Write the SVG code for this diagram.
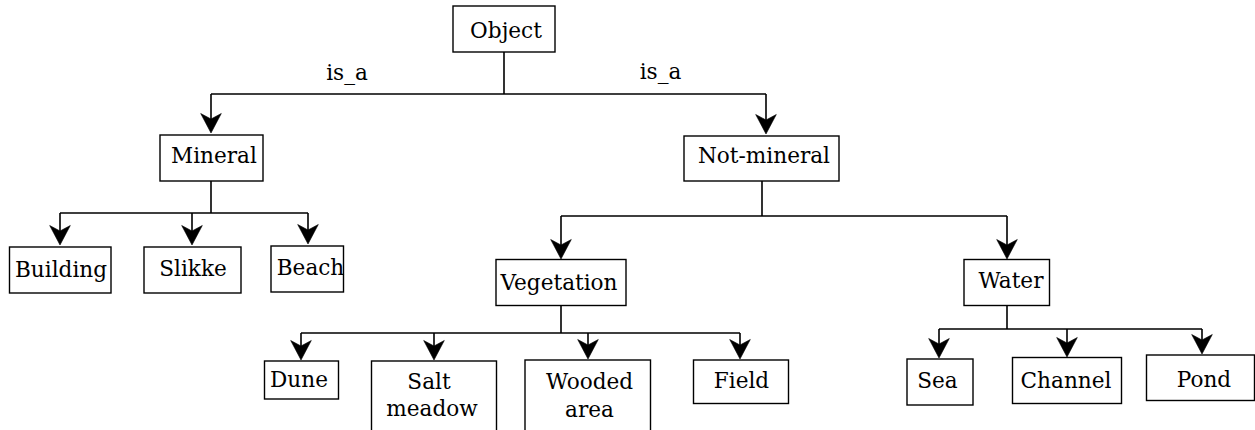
<svg xmlns="http://www.w3.org/2000/svg" xmlns:xlink="http://www.w3.org/1999/xlink" width="1255" height="430" viewBox="0 0 1255 430">
<style>
.box{fill:#fff;stroke:#000;stroke-width:1.4}
.lbl{font-family:"DejaVu Serif",serif;font-size:21.6px;fill:#000;text-anchor:middle}
.edge{fill:none;stroke:#000;stroke-width:1.6}
.head{fill:#000;stroke:#000;stroke-width:0.6;stroke-linejoin:miter}
</style>
<defs>
<path id="ah" class="head" d="M0,0 L-10.3,-19.5 L0,-14 L10.3,-19.5 Z"/>
</defs>
<g id="connectors">
<path class="edge" d="M504,52 V94 M211,94 H766 M211,94 V120 M766,94 V121"/>
<path class="edge" d="M211,181 V213 M60,213 H308 M60,213 V232 M192,213 V232 M308,213 V231"/>
<path class="edge" d="M762,181 V216 M561,216 H1007 M561,216 V246 M1007,216 V246"/>
<path class="edge" d="M561,305 V333 M301,333 H740 M301,333 V347 M434,333 V347 M588,333 V346 M740,333 V346"/>
<path class="edge" d="M1007,305 V329 M939,329 H1202 M939,329 V345 M1067,329 V344 M1202,329 V341"/>
<use xlink:href="#ah" x="211" y="133"/>
<use xlink:href="#ah" x="766" y="134"/>
<use xlink:href="#ah" x="60" y="245"/>
<use xlink:href="#ah" x="192" y="245"/>
<use xlink:href="#ah" x="308" y="244"/>
<use xlink:href="#ah" x="561" y="259"/>
<use xlink:href="#ah" x="1007" y="259"/>
<use xlink:href="#ah" x="301" y="360"/>
<use xlink:href="#ah" x="434" y="360"/>
<use xlink:href="#ah" x="588" y="359"/>
<use xlink:href="#ah" x="740" y="359"/>
<use xlink:href="#ah" x="939" y="358"/>
<use xlink:href="#ah" x="1067" y="357"/>
<use xlink:href="#ah" x="1202" y="354"/>
<text class="lbl" x="347" y="80">is_a</text>
<text class="lbl" x="660.5" y="79">is_a</text>
</g>
<g id="object"><rect class="box" x="453" y="6" width="102" height="46"/><text class="lbl" x="506" y="38">Object</text></g>
<g id="mineral"><rect class="box" x="160" y="135" width="103" height="46"/><text class="lbl" x="214" y="163">Mineral</text></g>
<g id="not-mineral"><rect class="box" x="684" y="136" width="155" height="45"/><text class="lbl" x="764" y="163">Not-mineral</text></g>
<g id="building"><rect class="box" x="9.5" y="247" width="101.5" height="46"/><text class="lbl" x="61" y="277">Building</text></g>
<g id="slikke"><rect class="box" x="144" y="247" width="97" height="46"/><text class="lbl" x="193" y="276">Slikke</text></g>
<g id="beach"><rect class="box" x="271" y="246" width="72.5" height="46"/><text class="lbl" x="310.5" y="275">Beach</text></g>
<g id="vegetation"><rect class="box" x="496" y="259.5" width="130" height="46"/><text class="lbl" x="559" y="290">Vegetation</text></g>
<g id="water"><rect class="box" x="964" y="259.5" width="85.5" height="46"/><text class="lbl" x="1011" y="288">Water</text></g>
<g id="dune"><rect class="box" x="264.5" y="361" width="74" height="38"/><text class="lbl" x="299" y="387">Dune</text></g>
<g id="salt-meadow"><rect class="box" x="371.5" y="361" width="125" height="75"/><text class="lbl" x="429" y="389">Salt</text><text class="lbl" x="432" y="416">meadow</text></g>
<g id="wooded-area"><rect class="box" x="525" y="360" width="125.5" height="75"/><text class="lbl" x="589.5" y="389">Wooded</text><text class="lbl" x="589.5" y="417">area</text></g>
<g id="field"><rect class="box" x="693.5" y="360" width="95" height="43.5"/><text class="lbl" x="741.5" y="388">Field</text></g>
<g id="sea"><rect class="box" x="907" y="359" width="66" height="46"/><text class="lbl" x="937.5" y="388">Sea</text></g>
<g id="channel"><rect class="box" x="1012.5" y="357.5" width="109" height="46"/><text class="lbl" x="1066" y="388">Channel</text></g>
<g id="pond"><rect class="box" x="1146.5" y="355" width="108" height="45.5"/><text class="lbl" x="1204" y="387">Pond</text></g>
</svg>
